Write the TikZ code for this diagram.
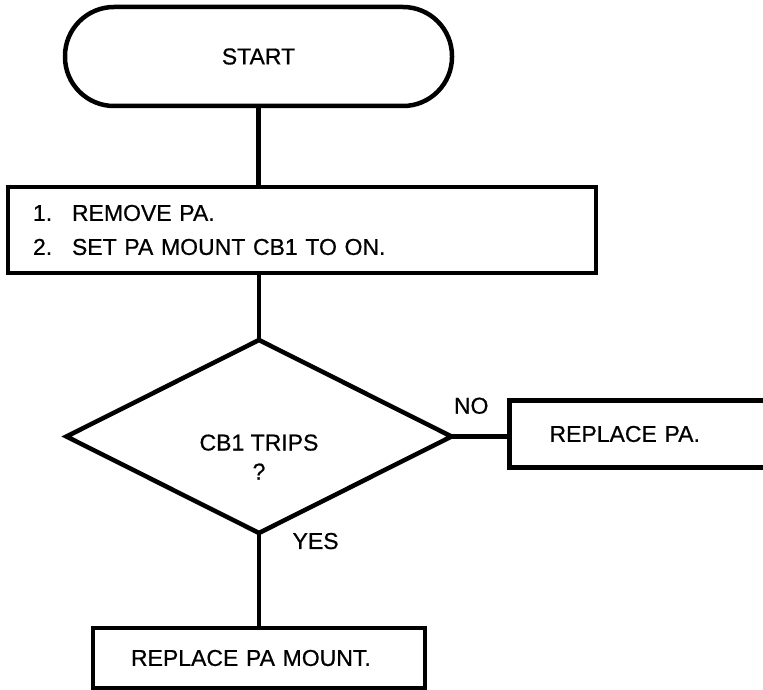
\documentclass[tikz,border=0pt]{standalone}
\usepackage{fontspec}
\setmainfont{Liberation Sans}[FakeBold=0.6]
\usetikzlibrary{positioning,shapes.geometric}

\begin{document}
\begin{tikzpicture}[
  node distance=67pt and 58pt,
  base/.style={draw, line width=4.5pt, outer sep=0pt, font=\fontsize{23}{34}\selectfont},
  term/.style={base, rounded corners=49pt, minimum width=387pt, minimum height=99pt},
  box/.style={base, inner sep=0pt, align=left},
  decision/.style={base, diamond, inner sep=0pt, minimum width=385pt, minimum height=193pt},
  lbl/.style={font=\fontsize{23}{29}\selectfont},
  conn/.style={line width=4.5pt}
]
\useasboundingbox (0,0) rectangle (763pt,-690pt);
\node[term] (start) at (258.5pt,-56.5pt) {START};
\node[box, minimum width=588pt, minimum height=86pt, text width=538pt,
      below right=81pt and -57pt of start.south west] (steps)
  {\makebox[39pt][l]{1.}REMOVE PA.\\\makebox[39pt][l]{2.}SET PA MOUNT CB1 TO ON.};
\node[decision, below=67pt of steps.south, xshift=-43pt] (dec) {};
\node[lbl, align=center, yshift=-20.5pt] (decq) at (dec.center) {CB1 TRIPS\\?};
\node[box, minimum width=270pt, minimum height=67pt, text width=190pt,
      right=58pt of dec.east, yshift=2.5pt] (fail) {REPLACE PA.};
\node[box, minimum width=332pt, minimum height=60pt, text width=256pt,
      below=95pt of dec.south] (mount) {REPLACE PA MOUNT.};
% connectors
\draw[conn] (start.south) -- (start.south |- steps.north);
\draw[conn] (dec.north |- steps.south) -- (dec.north);
\draw[conn] (dec.east) -- node[lbl, above=17pt, pos=0.34] {NO} (dec.east -| fail.west);
\draw[conn] (dec.south) -- node[lbl, right=28pt, pos=0.085] {YES} (mount.north);
\end{tikzpicture}
\end{document}
